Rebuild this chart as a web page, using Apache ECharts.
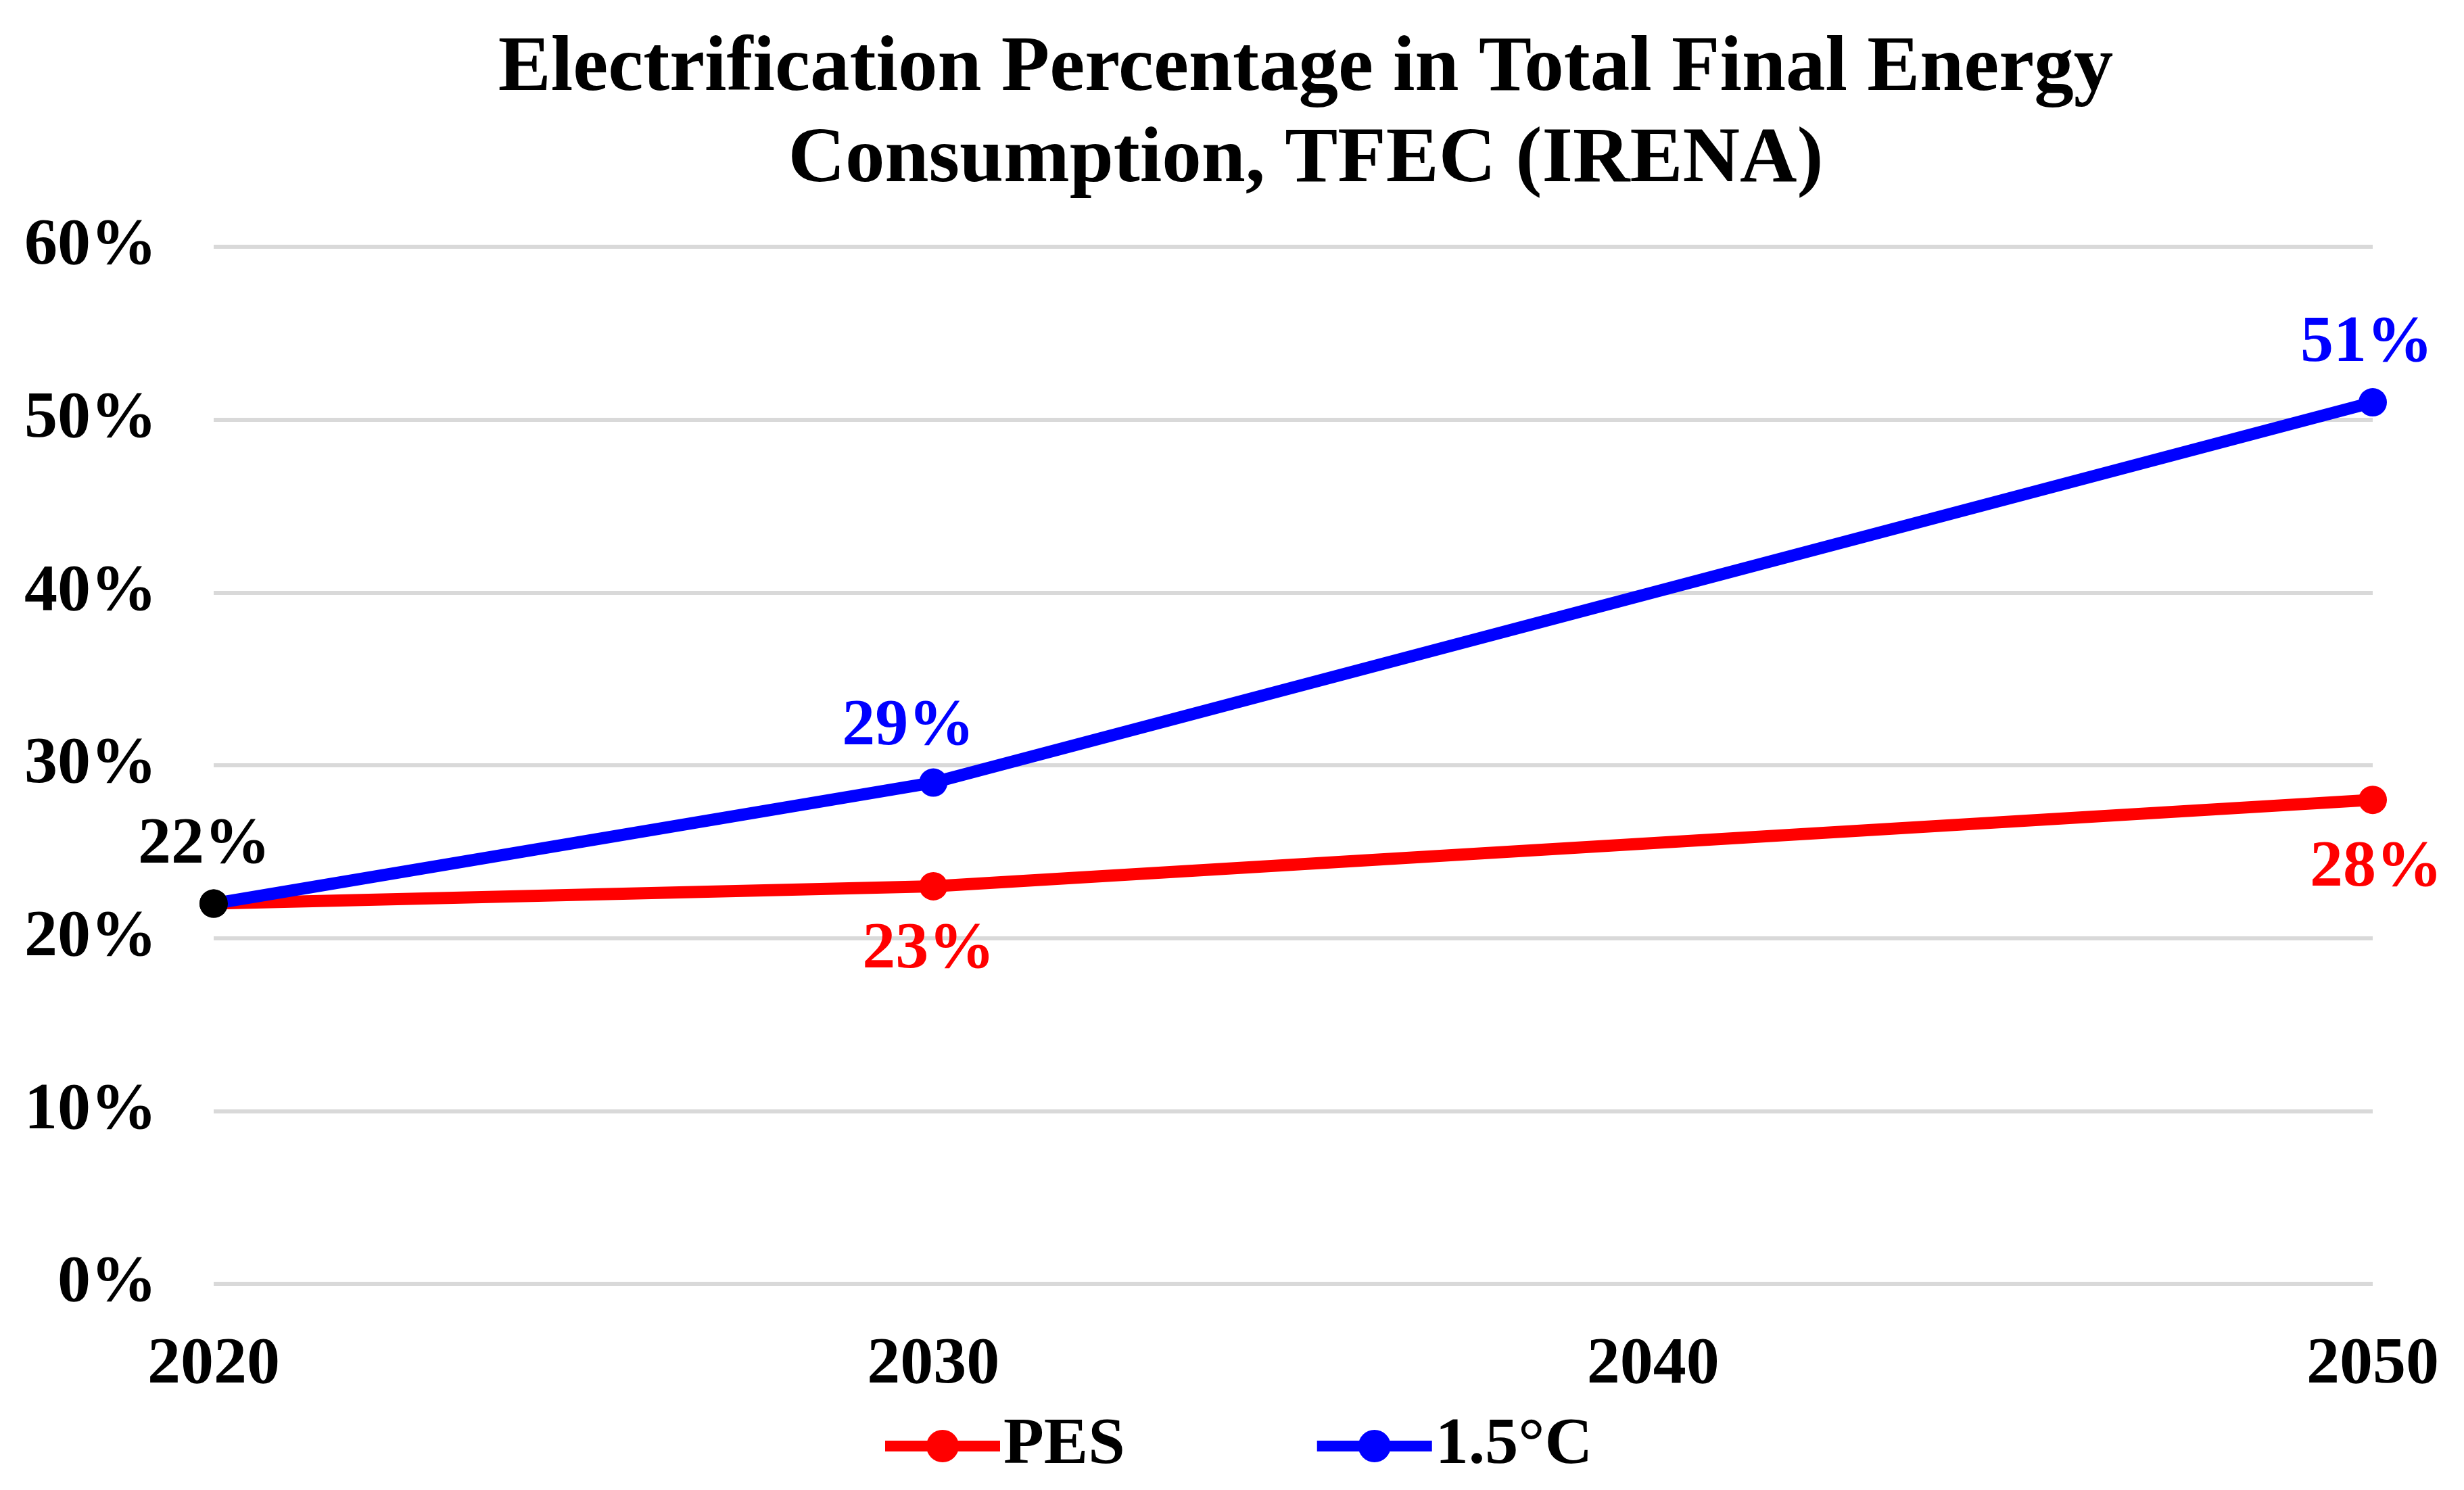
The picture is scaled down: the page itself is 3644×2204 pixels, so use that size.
<!DOCTYPE html>
<html>
<head>
<meta charset="utf-8">
<script src="https://cdn.jsdelivr.net/npm/echarts@6/dist/echarts.min.js"></script>
<style>
html,body{margin:0;padding:0;background:#fff;}
#chart{width:3644px;height:2204px;}
</style>
</head>
<body>
<div id="chart"></div>
<script>
const titleLines = ['Electrification Percentage in Total Final Energy', 'Consumption, TFEC (IRENA)'];
const years = [2020, 2030, 2050];
const seriesNames = ['PES', '1.5°C'];
const pesValues = [22, 23, 28];
const c15Values = [22, 29, 51];
const xTicks = [2020, 2030, 2040, 2050];
const yTicks = [0, 10, 20, 30, 40, 50, 60];

const FONT = '"Liberation Serif", "Times New Roman", serif';
const RED = '#ff0000';
const BLUE = '#0000ff';

function buildData(values, labelCfgs) {
  return values.map((v, i) => {
    const item = { value: [years[i], v] };
    if (i === 0) item.itemStyle = { color: '#000' };
    if (labelCfgs[i]) item.label = labelCfgs[i];
    return item;
  });
}

const labelBase = {
  show: true,
  fontFamily: FONT,
  fontWeight: 'bold',
  fontSize: 98,
  lineHeight: 98,
  formatter: p => p.value[1] + '%'
};

const pesLabels = [
  Object.assign({}, labelBase, { position: 'top', distance: 16, offset: [-14, 0], color: '#000' }),
  Object.assign({}, labelBase, { position: 'bottom', distance: 25, offset: [-7, 0], color: RED }),
  Object.assign({}, labelBase, { position: 'bottom', distance: 32, offset: [5, 0], color: RED })
];
const c15Labels = [
  { show: false },
  Object.assign({}, labelBase, { position: 'top', distance: 12, offset: [-37, 0], color: BLUE }),
  Object.assign({}, labelBase, { position: 'top', distance: 16, offset: [-9, 0], color: BLUE })
];

const chart = echarts.init(document.getElementById('chart'));
chart.setOption({
  backgroundColor: '#fff',
  animation: false,
  title: {
    text: titleLines.join('\n'),
    left: 1926,
    top: 30,
    textAlign: 'center',
    textStyle: {
      fontFamily: FONT,
      fontWeight: 'bold',
      fontSize: 117,
      lineHeight: 135,
      color: '#000'
    }
  },
  legend: {
    data: seriesNames,
    left: 1296,
    top: 2085,
    itemWidth: 170,
    itemHeight: 60,
    itemGap: 276,
    lineStyle: { width: 16 },
    textStyle: {
      fontFamily: FONT,
      fontWeight: 'bold',
      fontSize: 98,
      lineHeight: 98,
      color: '#000'
    }
  },
  grid: {
    left: 316,
    right: 135,
    top: 365,
    bottom: 305,
    containLabel: false
  },
  xAxis: {
    type: 'value',
    min: xTicks[0],
    max: xTicks[xTicks.length - 1],
    interval: 10,
    axisLine: { show: false },
    axisTick: { show: false },
    splitLine: { show: false },
    axisLabel: {
      margin: 72,
      fontFamily: FONT,
      fontWeight: 'bold',
      fontSize: 98,
      color: '#000',
      formatter: v => String(v)
    }
  },
  yAxis: {
    type: 'value',
    min: yTicks[0],
    max: yTicks[yTicks.length - 1],
    interval: 10,
    axisLine: { show: false },
    axisTick: { show: false },
    splitLine: { show: true, lineStyle: { color: '#d9d9d9', width: 6 } },
    axisLabel: {
      margin: 84,
      fontFamily: FONT,
      fontWeight: 'bold',
      fontSize: 98,
      color: '#000',
      formatter: '{value}%'
    }
  },
  series: [
    {
      name: seriesNames[0],
      type: 'line',
      data: buildData(pesValues, pesLabels),
      symbol: 'circle',
      symbolSize: 42,
      lineStyle: { color: RED, width: 18 },
      itemStyle: { color: RED },
      z: 2
    },
    {
      name: seriesNames[1],
      type: 'line',
      data: buildData(c15Values, c15Labels),
      symbol: 'circle',
      symbolSize: 42,
      lineStyle: { color: BLUE, width: 18 },
      itemStyle: { color: BLUE },
      z: 3
    }
  ]
});
</script>
</body>
</html>
